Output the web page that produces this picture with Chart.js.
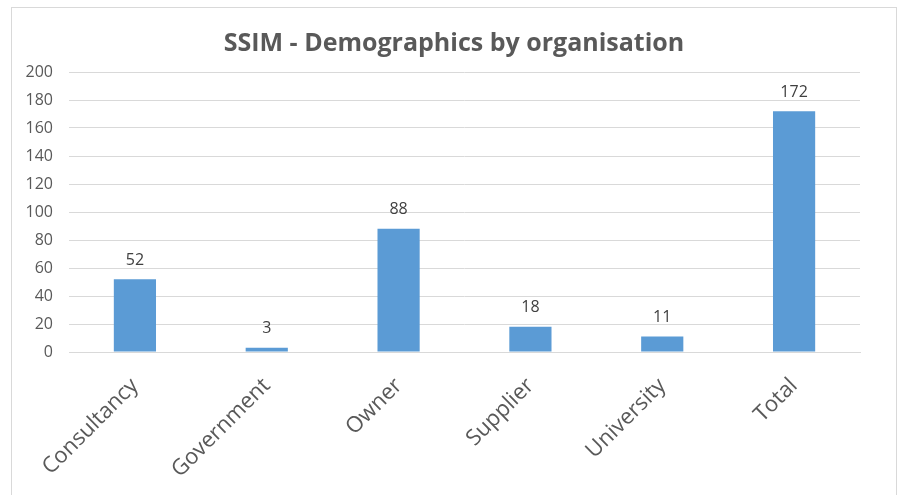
<!DOCTYPE html>
<html>
<head>
<meta charset="utf-8">
<script src="https://cdn.jsdelivr.net/npm/chart.js@4"></script>
<style>
    body { margin: 0; background: #fff; }
    #frame {
        position: absolute; left: 11px; top: 7px;
        width: 886px; height: 500px;
        border: 1px solid #d9d9d9; box-sizing: border-box;
    }
    #chart { display: block; }
</style>
</head>
<body>
<div id="frame"><canvas id="chart" width="884" height="498"></canvas></div>
<script>
// Chart data
const categories = ['Consultancy', 'Government', 'Owner', 'Supplier', 'University', 'Total'];
const respondents = [52, 3, 88, 18, 11, 172];
const yTicks = { min: 0, max: 200, step: 20 };

const textGrey = '#595959';
const fontFamily = '"Open Sans", "Liberation Sans", sans-serif';

// Draw value labels above each bar
const valueLabels = {
    id: 'valueLabels',
    afterDatasetsDraw(chart) {
        const ctx = chart.ctx;
        const meta = chart.getDatasetMeta(0);
        ctx.save();
        ctx.fillStyle = '#404040';
        ctx.font = '16px ' + fontFamily;
        ctx.textAlign = 'center';
        ctx.textBaseline = 'middle';
        meta.data.forEach((bar, i) => {
            ctx.fillText(respondents[i], bar.x, bar.y - 19);
        });
        ctx.restore();
    }
};

// Centre the title on the whole canvas, not on the padded area
const centreTitle = {
    id: 'centreTitle',
    afterLayout(chart) {
        const t = chart.titleBlock;
        if (!t) return;
        t.left = 0;
        t.right = chart.width;
        t.width = chart.width;
    }
};

new Chart(document.getElementById('chart'), {
    type: 'bar',
    data: {
        labels: categories,
        datasets: [{
            data: respondents,
            backgroundColor: '#5b9bd5',
            categoryPercentage: 0.64,
            barPercentage: 0.5
        }]
    },
    options: {
        responsive: false,
        animation: false,
        layout: { padding: { left: 0, right: 36, top: 0, bottom: 0 } },
        plugins: {
            legend: { display: false },
            tooltip: { enabled: false },
            title: {
                display: true,
                text: 'SSIM - Demographics by organisation',
                color: textGrey,
                font: { family: fontFamily, size: 25, weight: 'bold' },
                padding: { top: 21, bottom: 13 }
            }
        },
        scales: {
            y: {
                min: yTicks.min,
                max: yTicks.max,
                ticks: {
                    stepSize: yTicks.step,
                    color: textGrey,
                    font: { family: fontFamily, size: 16 },
                    padding: 16
                },
                grid: { color: '#d9d9d9', drawTicks: false },
                border: { display: false },
                afterFit: axis => { axis.width = 57; }
            },
            x: {
                ticks: {
                    color: textGrey,
                    font: { family: fontFamily, size: 22 },
                    maxRotation: 45,
                    minRotation: 45,
                    padding: 13
                },
                grid: { display: false },
                border: { color: '#d9d9d9' },
                afterFit: axis => { axis.height = 154; }
            }
        }
    },
    plugins: [valueLabels, centreTitle]
});
</script>
</body>
</html>
